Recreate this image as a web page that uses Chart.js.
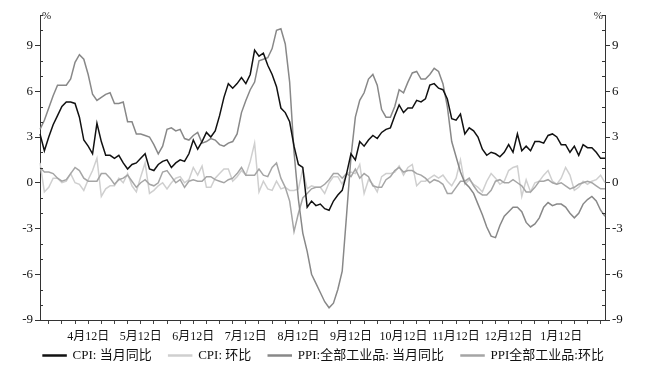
<!DOCTYPE html>
<html><head><meta charset="utf-8">
<script src="https://cdn.jsdelivr.net/npm/chart.js@4"></script>
<style>html,body{margin:0;padding:0;background:#fff}#w{width:647px;height:372px}</style>
</head><body><div id="w"><canvas id="c" width="647" height="372"></canvas></div>
<script>
// Monthly data Jan 2004 - Oct 2014
const years = [2004,2005,2006,2007,2008,2009,2010,2011,2012,2013,2014];
const yearLabels = ["4月12日","5月12日","6月12日","7月12日","8月12日","9月12日","10月12日","11月12日","12月12日","1月12日"];
const cpiYoy = [
  3.2,2.1,3.0,3.8,4.4,5.0,5.3,5.3,5.2,4.3,2.8,2.4,
  1.9,3.9,2.7,1.8,1.8,1.6,1.8,1.3,0.9,1.2,1.3,1.6,
  1.9,0.9,0.8,1.2,1.4,1.5,1.0,1.3,1.5,1.4,1.9,2.8,
  2.2,2.7,3.3,3.0,3.4,4.4,5.6,6.5,6.2,6.5,6.9,6.5,
  7.1,8.7,8.3,8.5,7.7,7.1,6.3,4.9,4.6,4.0,2.4,1.2,
  1.0,-1.6,-1.2,-1.5,-1.4,-1.7,-1.8,-1.2,-0.8,-0.5,0.6,1.9,
  1.5,2.7,2.4,2.8,3.1,2.9,3.3,3.5,3.6,4.4,5.1,4.6,
  4.9,4.9,5.4,5.3,5.5,6.4,6.5,6.2,6.1,5.5,4.2,4.1,
  4.5,3.2,3.6,3.4,3.0,2.2,1.8,2.0,1.9,1.7,2.0,2.5,
  2.0,3.2,2.1,2.4,2.1,2.7,2.7,2.6,3.1,3.2,3.0,2.5,
  2.5,2.0,2.4,1.8,2.5,2.3,2.3,2.0,1.6,1.6
];
const cpiMom = [
  1.3,-0.6,-0.3,0.3,0.3,0.0,0.1,0.6,0.0,-0.1,-0.5,0.2,
  0.8,1.6,-0.9,-0.4,-0.2,-0.2,0.3,0.0,0.6,-0.2,-0.6,0.4,
  1.3,-0.7,-0.5,-0.2,0.0,-0.4,0.0,0.3,0.4,0.0,0.2,1.0,
  0.5,1.1,-0.3,-0.3,0.3,0.6,0.9,0.9,0.1,0.4,0.8,0.5,
  1.4,2.6,-0.6,0.1,-0.4,-0.5,0.1,-0.4,-0.3,-0.5,-0.5,-0.4,
  0.9,-0.4,-0.2,-0.3,-0.3,-0.7,0.0,0.4,0.4,-0.1,0.6,0.7,
  0.6,1.2,-0.7,0.2,-0.1,-0.6,0.4,0.6,0.6,0.7,1.1,0.5,
  1.0,1.2,-0.2,0.1,0.1,0.3,0.5,0.3,0.5,0.1,-0.2,0.3,
  1.5,-0.1,0.2,-0.1,-0.3,-0.6,0.1,0.6,0.3,-0.1,0.1,0.8,
  1.0,1.1,-0.9,0.2,-0.6,0.0,0.1,0.5,0.8,0.1,-0.1,0.3,
  1.0,0.5,-0.5,-0.3,0.1,-0.1,0.1,0.2,0.5,0.0
];
const ppiYoy = [
  3.5,4.1,4.9,5.7,6.4,6.4,6.4,6.8,7.9,8.4,8.1,7.1,
  5.8,5.4,5.6,5.8,5.9,5.2,5.2,5.3,4.0,4.0,3.2,3.2,
  3.1,3.0,2.5,1.9,2.4,3.5,3.6,3.4,3.5,2.9,2.8,3.1,
  3.3,2.6,2.7,2.9,2.8,2.5,2.4,2.6,2.7,3.2,4.6,5.4,
  6.1,6.6,8.0,8.1,8.2,8.8,10.0,10.1,9.1,6.6,2.0,-1.1,
  -3.3,-4.5,-6.0,-6.6,-7.2,-7.8,-8.2,-7.9,-7.0,-5.8,-2.1,1.7,
  4.3,5.4,5.9,6.8,7.1,6.4,4.8,4.3,4.3,5.0,6.1,5.9,
  6.6,7.2,7.3,6.8,6.8,7.1,7.5,7.3,6.5,5.0,2.7,1.7,
  0.7,0.0,-0.3,-0.7,-1.4,-2.1,-2.9,-3.5,-3.6,-2.8,-2.2,-1.9,
  -1.6,-1.6,-1.9,-2.6,-2.9,-2.7,-2.3,-1.6,-1.3,-1.5,-1.4,-1.4,
  -1.6,-2.0,-2.3,-2.0,-1.4,-1.1,-0.9,-1.2,-1.8,-2.2
];
const ppiMom = [
  1.0,0.7,0.7,0.6,0.3,0.1,0.2,0.6,1.0,0.8,0.3,0.1,
  0.1,0.1,0.6,0.6,0.3,-0.1,0.2,0.3,0.5,0.1,-0.3,0.0,
  0.2,-0.1,-0.2,0.0,0.7,0.8,0.4,0.0,0.2,-0.3,0.1,0.2,
  0.1,0.1,0.4,0.4,0.2,0.1,0.0,0.2,0.3,0.6,1.0,0.5,
  0.5,0.5,0.9,0.5,0.4,1.0,1.3,0.3,-0.3,-1.2,-3.2,-2.0,
  -1.0,-0.7,-0.4,-0.3,-0.3,-0.1,0.2,0.6,0.6,0.3,0.6,0.4,
  0.9,0.3,0.6,0.4,-0.2,-0.3,-0.3,0.2,0.4,0.8,1.0,0.7,
  0.8,0.8,0.6,0.5,0.3,0.0,0.2,0.1,-0.1,-0.7,-0.7,-0.3,
  0.1,0.1,0.3,-0.2,-0.6,-0.8,-0.8,-0.5,0.1,0.2,0.0,0.0,
  0.2,0.0,-0.2,-0.6,-0.6,-0.3,0.1,0.1,0.2,0.0,-0.1,0.0,
  -0.2,-0.4,-0.3,-0.1,0.0,0.1,0.0,-0.2,-0.4,-0.4
];
const yTicks = [-9,-6,-3,0,3,6,9];
const seriesNames = ["CPI: 当月同比","CPI: 环比","PPI:全部工业品: 当月同比","PPI全部工业品:环比"];

const labels = [];
years.forEach(y => { for (let m = 1; m <= 12; m++) labels.push(y + "-" + m); });
labels.length = cpiYoy.length;

const FONT = "'Liberation Serif','Noto Sans CJK SC',serif";

const extras = {
  id: 'extras',
  afterDraw(chart) {
    const ctx = chart.ctx, y = chart.scales.y, y2 = chart.scales.y2;
    ctx.save();
    ctx.strokeStyle = '#333'; ctx.lineWidth = 1;
    for (let v = -9; v <= 11; v++) {
      if (v % 3 === 0) continue;
      const p = Math.round(y.getPixelForValue(v)) + 0.5;
      ctx.beginPath(); ctx.moveTo(y.right, p); ctx.lineTo(y.right + 3, p); ctx.stroke();
      ctx.beginPath(); ctx.moveTo(y2.left - 3, p); ctx.lineTo(y2.left, p); ctx.stroke();
    }
    ctx.fillStyle = '#222';
    ctx.font = "11px " + FONT;
    ctx.textBaseline = 'middle';
    ctx.textAlign = 'left';
    ctx.fillText('%', y.right + 2, chart.chartArea.top + 1);
    ctx.textAlign = 'right';
    ctx.fillText('%', y2.left - 2, chart.chartArea.top + 1);
    ctx.restore();
  }
};

new Chart(document.getElementById('c'), {
  type: 'line',
  data: {
    labels,
    datasets: [
      { label: seriesNames[0] + '    ', data: cpiYoy, borderColor: '#111', backgroundColor: '#111', borderWidth: 1.5, yAxisID: 'y', order: 1 },
      { label: seriesNames[1] + '    ', data: cpiMom, borderColor: '#cfcfcf', backgroundColor: '#cfcfcf', borderWidth: 1.5, yAxisID: 'y', order: 4 },
      { label: seriesNames[2] + '    ', data: ppiYoy, borderColor: '#888', backgroundColor: '#888', borderWidth: 1.5, yAxisID: 'y', order: 2 },
      { label: seriesNames[3], data: ppiMom, borderColor: '#a5a5a5', backgroundColor: '#a5a5a5', borderWidth: 1.5, yAxisID: 'y', order: 3 }
    ]
  },
  options: {
    responsive: false,
    animation: false,
    layout: { padding: { top: 15, left: 0, right: 0, bottom: 0 } },
    elements: { point: { radius: 0 }, line: { tension: 0 } },
    plugins: {
      legend: {
        position: 'bottom',
        labels: {
          font: { family: FONT, size: 13 }, color: '#111',
          boxWidth: 23, boxHeight: 1, padding: 4,
          sort: (a, b) => a.datasetIndex - b.datasetIndex
        }
      },
      tooltip: { enabled: false }
    },
    scales: {
      x: {
        offset: false,
        grid: { display: true, drawOnChartArea: false, drawTicks: true, tickLength: 4, color: '#444' },
        border: { display: true, color: '#333', width: 1 },
        ticks: {
          autoSkip: false, maxRotation: 0, minRotation: 0, padding: 6,
          font: { family: FONT, size: 12 }, color: '#111',
          callback: function(val, i) {
            const m = i % 12;
            if (m === 11) return yearLabels[Math.floor(i / 12)] || '';
            if (m % 3 === 2) return '';
            return null;
          }
        },
        afterFit(s) { s.height = 25; }
      },
      y: {
        position: 'left', min: -9, max: 11,
        afterBuildTicks(s) { s.ticks = yTicks.map(v => ({ value: v })); },
        grid: { display: true, drawOnChartArea: false, tickLength: 5, color: '#333' },
        border: { display: true, color: '#333', width: 1 },
        ticks: { font: { family: FONT, size: 13 }, color: '#111', padding: 2 },
        afterFit(s) { s.width = 40; }
      },
      y2: {
        position: 'right', min: -9, max: 11,
        afterBuildTicks(s) { s.ticks = yTicks.map(v => ({ value: v })); },
        grid: { display: true, drawOnChartArea: false, tickLength: 5, color: '#333' },
        border: { display: true, color: '#333', width: 1 },
        ticks: { font: { family: FONT, size: 13 }, color: '#111', padding: 2 },
        afterFit(s) { s.width = 42; }
      }
    }
  },
  plugins: [extras]
});
</script>
</body></html>
